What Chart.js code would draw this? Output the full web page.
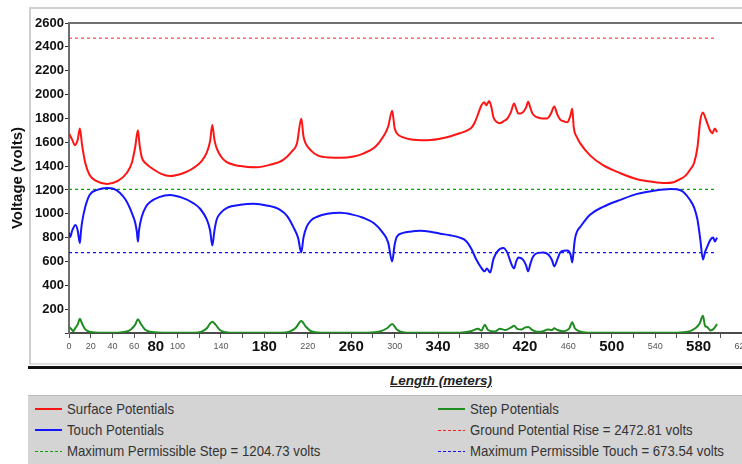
<!DOCTYPE html>
<html>
<head>
<meta charset="utf-8">
<script src="https://cdn.jsdelivr.net/npm/chart.js@4.4.1/dist/chart.umd.min.js"></script>
<style>
  body { margin:0; width:742px; height:464px; overflow:hidden; background:#fff; position:relative; font-family:"Liberation Sans", Arial, sans-serif; }
  #frame { position:absolute; left:29px; top:7px; width:760px; height:354px; border-left:2px solid #cfcfcf; border-top:2px solid #cfcfcf; border-bottom:2px solid #dedede; }
  #chart { position:absolute; left:0; top:0; }
  #rule { position:absolute; left:28px; top:366px; width:720px; border-top:3px solid #111; }
  #xtitle { position:absolute; left:390px; top:373px; font:bold italic 13.5px "Liberation Sans", Arial, sans-serif; text-decoration:underline; color:#222; }
  #legend { position:absolute; left:28px; top:395px; width:720px; height:70px; background:#d4d4d4; border-top:1px solid #bcbcbc; }
  .swatch { position:absolute; width:27px; }
  .txt { position:absolute; font-size:15px; line-height:18px; color:#333; white-space:nowrap; transform:scaleX(0.88); transform-origin:left center; }
</style>
</head>
<body>
<div id="frame"></div>
<canvas id="chart" width="760" height="366"></canvas>
<div id="rule"></div>
<div id="xtitle">Length (meters)</div>
<div id="legend"></div>
<script>
// Surface potentials (volts) along the profile
const surfaceX = [0,3,5.5,8,10,12,15,19,25,35,45,53,58,61,63.5,65,67,71,75,85,93,105,114,122,127,130,132,134,136,140,145,158,173,185,197,205,210,214,216,218,223,229,240,250,262,271,282,289,294,297.7,300,302,308,314,330,345,360,367,371,374,377,380,382.5,384.5,387,389,391,394,397,401,404,407,410,412,414,418,421,423,425,427,431,436,440.5,444,447,450,452.5,456,459,462,463.6,465,468,471,480,492,508,523.5,538,549,557,563,568,572,576,579,581.6,584,586,588,590.5,592.6,595,597];
const surfaceY = [1675,1620,1575,1620,1715,1580,1425,1325,1275,1250,1275,1340,1430,1560,1700,1580,1475,1420,1390,1335,1317,1340,1380,1440,1515,1610,1745,1620,1550,1480,1435,1400,1390,1410,1450,1520,1590,1800,1650,1590,1530,1490,1472,1470,1480,1505,1560,1640,1730,1865,1720,1675,1640,1625,1617,1635,1675,1700,1725,1770,1840,1910,1935,1910,1945,1900,1810,1770,1760,1780,1800,1850,1925,1880,1840,1850,1890,1940,1890,1840,1810,1800,1800,1840,1900,1830,1790,1775,1767,1825,1880,1725,1640,1590,1490,1408,1340,1290,1267,1258,1265,1290,1320,1367,1430,1560,1783,1850,1810,1760,1700,1675,1715,1683];

// Touch potentials (volts)
const touchX = [0,1,3,6,8,10,11,12,15,19,26,35,41,47,52,56,59,61,62.5,63.5,64.5,67,71,75,83,93,104,114,121,127,130,132,134,136,140,145.6,158,170,182,194.5,201,206.5,211,214,216,219,223,228.6,238,250,260,271,281,289,294,297.7,300,302,308,314,323.5,333,342,351,360,366,371,375,379,383,385,388,391,394.5,400,404,406,410,412,414,418,421,423,425,427.6,432,437,441.5,445,447,450,452.5,456,459,462,463.6,465,466,468,471,480,492,508,523.5,538,554,560,566,572,576,579,581.6,584,586,588,591,593.5,595,597];
const touchY = [840,805,860,905,860,755,850,925,1058,1158,1200,1217,1210,1175,1120,1050,980,925,850,767,860,975,1060,1100,1140,1158,1135,1092,1040,950,860,733,860,950,1010,1050,1075,1083,1070,1033,980,892,800,675,800,892,945,975,1000,1008,995,967,920,842,760,600,740,808,840,850,858,850,833,820,800,770,700,620,558,517,542,508,620,683,712,670,617,542,600,633,617,570,517,580,642,672,675,658,610,558,620,675,690,692,660,592,700,783,850,890,992,1058,1117,1167,1192,1208,1205,1183,1117,1050,950,783,617,680,725,783,800,767,800];

// Step potentials (volts)
const stepX = [0,2,4,6,8,10,12,15,20,30,45,52,57,61,63.5,66,70,76,90,115,122,127,130,132,135,139,146,160,195,203,209,214,218,223,232,275,286,293,297.7,302,309,320,360,370,377,380,383,386,392,397,402,407,410,413,417,420,423,427,431,437,441,445,447,450,455,458,461,463.6,466,470,478,500,560,570,577,581,584,586,588,591,594,597];
const stepY = [50,35,15,45,70,120,80,30,8,2,3,10,30,70,115,80,30,8,2,3,12,40,80,95,70,25,5,2,3,12,45,100,55,15,3,3,12,40,75,30,5,2,3,15,35,20,70,25,12,35,25,45,60,35,30,45,50,25,10,15,30,25,40,25,15,20,40,90,40,15,3,2,3,10,40,80,145,60,50,20,35,75];

// Limits (volts)
const groundPotentialRise = 2472.81;
const maxStep = 1204.73;
const maxTouch = 673.54;
const limitX = [0, 597];

// Axis ticks
const yTickValues = [200,400,600,800,1000,1200,1400,1600,1800,2000,2200,2400,2600];
const xSmallLabels = [0,20,40,60,100,140,220,300,380,460,540,620];
const xBigLabels = [80,180,260,340,420,500,580];

const FONT = '"Liberation Sans", Arial, sans-serif';

function pts(xs, ys) {
    return xs.map(function (x, i) { return { x: x, y: ys[i] }; });
}
function flat(v) {
    return limitX.map(function (x) { return { x: x, y: v }; });
}

const datasets = [
    { label: 'Surface Potentials', data: pts(surfaceX, surfaceY), borderColor: '#ff1414', borderWidth: 2 },
    { label: 'Touch Potentials', data: pts(touchX, touchY), borderColor: '#1414ff', borderWidth: 2 },
    { label: 'Step Potentials', data: pts(stepX, stepY), borderColor: '#1e8c1e', borderWidth: 2 },
    { label: 'Ground Potential Rise = ' + groundPotentialRise.toFixed(2) + ' volts', data: flat(groundPotentialRise), borderColor: '#ff2020', borderWidth: 1, borderDash: [3, 3] },
    { label: 'Maximum Permissible Step = ' + maxStep.toFixed(2) + ' volts', data: flat(maxStep), borderColor: '#00a800', borderWidth: 1.2, borderDash: [3, 3] },
    { label: 'Maximum Permissible Touch = ' + maxTouch.toFixed(2) + ' volts', data: flat(maxTouch), borderColor: '#1010ff', borderWidth: 1.2, borderDash: [3, 3] }
];
datasets.forEach(function (d) {
    d.pointRadius = 0;
    d.fill = false;
    d.cubicInterpolationMode = 'monotone';
});

// dark line along the top of the plot area
const topBorder = {
    id: 'topBorder',
    afterDraw: function (chart) {
        const a = chart.chartArea, ctx = chart.ctx;
        ctx.save();
        ctx.strokeStyle = '#707070';
        ctx.lineWidth = 2;
        ctx.beginPath();
        ctx.moveTo(a.left - 1, a.top);
        ctx.lineTo(a.right + 20, a.top);
        ctx.stroke();
        ctx.restore();
    }
};

function isBig(c) {
    return c.tick && xBigLabels.indexOf(c.tick.value) >= 0;
}

const chart = new Chart(document.getElementById('chart'), {
    type: 'line',
    data: { datasets: datasets },
    options: {
        responsive: false,
        animation: false,
        layout: { padding: { top: 23, right: 18, left: 0, bottom: 0 } },
        plugins: { legend: { display: false }, tooltip: { enabled: false } },
        scales: {
            x: {
                type: 'linear', min: 0, max: 620,
                border: { display: true, color: '#4a4a4a', width: 2 },
                grid: { drawOnChartArea: false, tickLength: 5, color: '#555' },
                ticks: {
                    stepSize: 20, autoSkip: false, maxRotation: 0, padding: 0,
                    callback: function (v) {
                        return (xSmallLabels.indexOf(v) >= 0 || xBigLabels.indexOf(v) >= 0) ? String(v) : '';
                    },
                    font: function (c) {
                        return isBig(c) ? { family: FONT, size: 15, weight: 'bold', lineHeight: '18px' }
                                        : { family: FONT, size: 9, lineHeight: '18px' };
                    },
                    color: function (c) { return isBig(c) ? '#111' : '#555'; }
                },
                afterFit: function (s) { s.height = 33; }
            },
            y: {
                min: 0, max: 2600,
                border: { display: true, color: '#6e6e6e', width: 2 },
                grid: { drawOnChartArea: false, tickLength: 4, color: '#333' },
                afterBuildTicks: function (s) {
                    s.ticks = [{ value: 0 }].concat(yTickValues.map(function (v) { return { value: v }; }));
                },
                ticks: {
                    padding: 1,
                    callback: function (v) { return v === 0 ? '' : String(v); },
                    font: { family: FONT, size: 13, weight: 'bold' },
                    color: '#111'
                },
                title: {
                    display: true, text: 'Voltage (volts)', color: '#111',
                    font: { family: FONT, size: 15, weight: 'bold' },
                    padding: { top: 9, bottom: 0 }
                },
                afterFit: function (s) { s.width = 69; }
            }
        }
    },
    plugins: [topBorder]
});

// legend: two columns, three rows
const slots = [[0, 0], [0, 1], [1, 0], [1, 1], [0, 2], [1, 2]];
const colLeft = [7, 410];
const rowTop = [13, 34, 55];
const legend = document.getElementById('legend');
chart.data.datasets.forEach(function (d, i) {
    const col = slots[i][0], row = slots[i][1];
    const sw = document.createElement('div');
    sw.className = 'swatch';
    sw.style.left = colLeft[col] + 'px';
    if (d.borderDash) {
        sw.style.top = rowTop[row] + 'px';
        sw.style.height = '1px';
        sw.style.background = 'repeating-linear-gradient(90deg, ' + d.borderColor + ' 0 3px, transparent 3px 5px)';
    } else {
        sw.style.top = (rowTop[row] - 1) + 'px';
        sw.style.height = '2px';
        sw.style.background = d.borderColor;
    }
    legend.appendChild(sw);
    const t = document.createElement('div');
    t.className = 'txt';
    t.textContent = d.label;
    t.style.left = (colLeft[col] + 32) + 'px';
    t.style.top = (rowTop[row] - 9) + 'px';
    legend.appendChild(t);
});
</script>
</body>
</html>
